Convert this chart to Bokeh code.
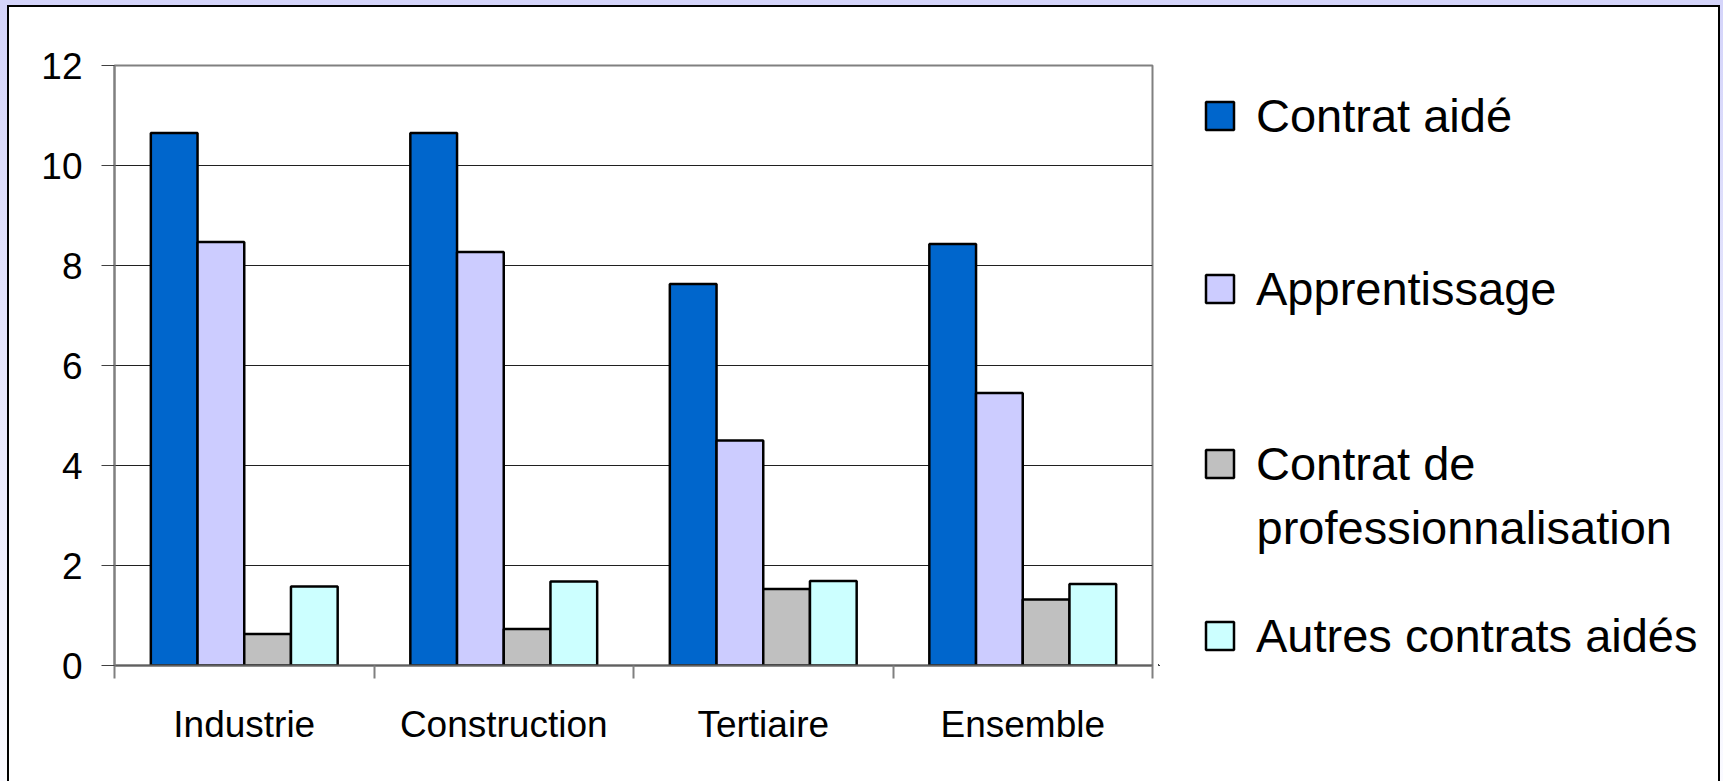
import numpy as np
from bokeh.plotting import figure
from bokeh.layouts import row
from bokeh.models import FixedTicker, Legend, LegendItem, Label, Range1d, ColumnDataSource
from bokeh.embed import file_html
from bokeh.resources import INLINE

categories = ["Industrie", "Construction", "Tertiaire", "Ensemble"]
series_names = ["Contrat aidé", "Apprentissage", "Contrat de professionnalisation", "Autres contrats aidés"]
contrat_aide = [10.65, 10.65, 7.63, 8.43]
apprentissage = [8.47, 8.27, 4.50, 5.45]
contrat_pro = [0.63, 0.73, 1.53, 1.32]
autres_contrats = [1.58, 1.68, 1.69, 1.63]
y_ticks = [0, 2, 4, 6, 8, 10, 12]
colors = ["#0066CC", "#CCCCFF", "#C0C0C0", "#CCFFFF"]

series = [contrat_aide, apprentissage, contrat_pro, autres_contrats]

FONT = "Liberation Sans"
LEG_FONT = "Liberation Sans"
LEG_SIZE = "47px"

H = 774
W_MAIN = 1149
W_LEG = 1709 - W_MAIN
B_TOP, B_BOT = 58, 116

p = figure(width=W_MAIN, height=H, x_range=Range1d(0, 4), y_range=Range1d(0, 12),
           output_backend="svg", toolbar_location=None,
           min_border_left=105, min_border_right=6, min_border_top=B_TOP, min_border_bottom=B_BOT,
           background_fill_color="white", border_fill_color="white")
p.styles = {"background": "white"}

n_series = len(series)
bar_w = 0.18
centers = np.arange(len(categories)) + 0.5
for j, vals in enumerate(series):
    off = (j - (n_series - 1) / 2) * bar_w
    src = ColumnDataSource(dict(x=centers + off, top=vals))
    p.vbar(x="x", top="top", width=bar_w, bottom=0, source=src,
           fill_color=colors[j], line_color="black", line_width=2.5)

# axes
p.xaxis.ticker = FixedTicker(ticks=list(centers), minor_ticks=list(range(len(categories) + 1)))
p.xaxis.major_label_overrides = {float(c): cat for c, cat in zip(centers, categories)}
p.xaxis.major_tick_out = 0
p.xaxis.major_tick_in = 0
p.xaxis.minor_tick_out = 13
p.xaxis.minor_tick_in = 0
p.xaxis.minor_tick_line_color = "#808080"
p.xaxis.minor_tick_line_width = 2
p.xaxis.axis_line_color = "#606060"
p.xaxis.axis_line_width = 2
p.xaxis.major_label_text_font = FONT
p.xaxis.major_label_text_font_size = "37px"
p.xaxis.major_label_text_color = "black"
p.xaxis.major_label_standoff = 25

p.yaxis.ticker = FixedTicker(ticks=y_ticks)
p.yaxis.major_tick_out = 13
p.yaxis.major_tick_in = 0
p.yaxis.minor_tick_line_color = None
p.yaxis.major_tick_line_color = "#404040"
p.yaxis.major_tick_line_width = 1
p.yaxis.axis_line_color = "#808080"
p.yaxis.axis_line_width = 2
p.yaxis.major_label_text_font = FONT
p.yaxis.major_label_text_font_size = "37px"
p.yaxis.major_label_text_color = "black"
p.yaxis.major_label_standoff = 19

p.xgrid.visible = False
p.ygrid.grid_line_color = "#202020"
p.ygrid.grid_line_width = 1

p.outline_line_color = "#808080"
p.outline_line_width = 2

# legend panel (separate figure to the right; its frame lines up with the chart frame)
q = figure(width=W_LEG, height=H, x_range=Range1d(0, 1), y_range=Range1d(0, 1),
           output_backend="svg", toolbar_location=None,
           x_axis_location=None, y_axis_location=None,
           min_border_left=0, min_border_right=0, min_border_top=B_TOP, min_border_bottom=B_BOT,
           background_fill_color="white", border_fill_color="white")
q.styles = {"background": "white"}
q.xgrid.visible = False
q.ygrid.visible = False
q.outline_line_color = None

leg_x = 44
bottoms = [510, 337, 162, -10]   # screen px from the frame bottom
labels = ["Contrat aidé", "Apprentissage", "Contrat de", "Autres contrats aidés"]
for j, (lab, b) in enumerate(zip(labels, bottoms)):
    dummy = q.vbar(x=[-5], top=[-5], width=0.1, fill_color=colors[j],
                   line_color="black", line_width=2.5)
    lg = Legend(items=[LegendItem(label=lab, renderers=[dummy])], location=(leg_x, b),
                padding=0, margin=0, spacing=0, glyph_width=35, glyph_height=35,
                label_height=80, label_standoff=19,
                label_text_font=LEG_FONT, label_text_font_size=LEG_SIZE,
                label_text_color="black",
                border_line_color=None, background_fill_alpha=0)
    q.add_layout(lg, "center")

q.add_layout(Label(x=leg_x + 35 + 19, y=138, x_units="screen", y_units="screen",
                   text="professionnalisation", text_baseline="middle",
                   text_font=LEG_FONT, text_font_size=LEG_SIZE, text_color="black"))

layout = row(p, q, spacing=0)
layout.styles = {"outline": "2px solid black", "outline-offset": "0px", "background": "white"}

html = file_html(layout, INLINE)
style = ("<style>html { background: linear-gradient(#D4D4FA, #FAFAFF) !important; min-height: 100%; }"
         " body { background: transparent !important; padding: 7px 4px 0 9px !important;"
         " box-sizing: border-box !important; margin: 0 !important; }</style>")
html = html.replace("</head>", style + "</head>", 1)
open("out.html", "w").write(html)
